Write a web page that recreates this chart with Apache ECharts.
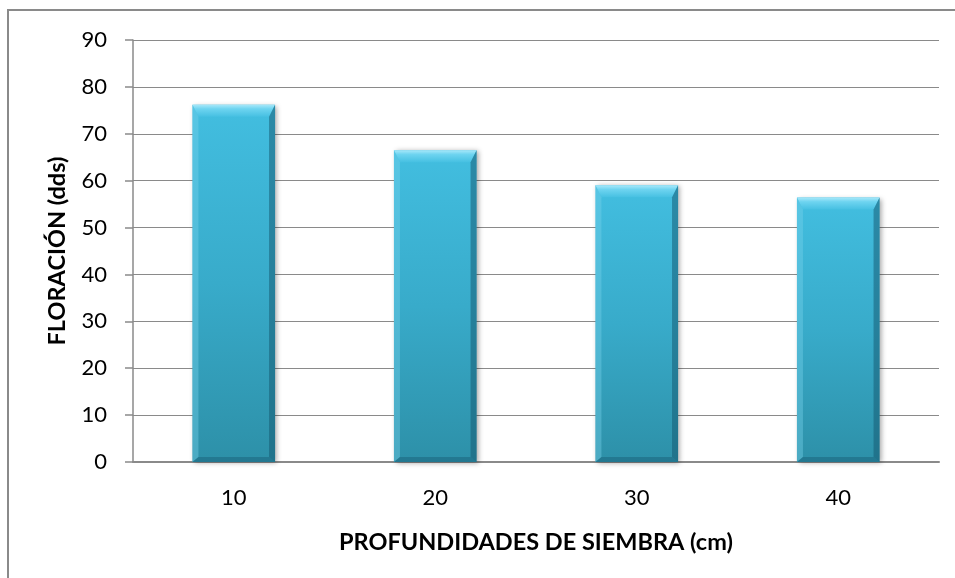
<!DOCTYPE html>
<html>
<head>
<meta charset="utf-8">
<script src="https://cdn.jsdelivr.net/npm/echarts@6/dist/echarts.min.js"></script>
<style>
  html, body { margin: 0; padding: 0; background: #ffffff; }
  #chart { width: 955px; height: 578px; }
</style>
</head>
<body>
<div id="chart"></div>
<script>
// Depths (cm) and days to flowering
const categories = ['10', '20', '30', '40'];
const floracion = [76.2, 66.5, 59.0, 56.4];
const yTicks = { min: 0, max: 90, interval: 10 };
const xTitle = 'PROFUNDIDADES DE SIEMBRA (cm)';
const yTitle = 'FLORACIÓN (dds)';

const FONT = 'Lato';
const BAR_RATIO = 0.41;

const chart = echarts.init(document.getElementById('chart'));

// Bevel highlights drawn over each bar, positioned from the same values
function renderBevel(params, api) {
  const idx = api.value(0);
  const val = api.value(1);
  const top = api.coord([idx, val]);
  const base = api.coord([idx, 0]);
  const w = api.size([1, 0])[0] * BAR_RATIO;
  const x0 = top[0] - w / 2, x1 = top[0] + w / 2;
  const y0 = top[1], y1 = base[1];
  const t = 12, s = 6, b = 5;
  return {
    type: 'group',
    silent: true,
    children: [
      { type: 'polygon', shape: { points: [[x0, y0], [x1, y0], [x1 - s, y0 + t], [x0 + s, y0 + t]] },
        style: { fill: new echarts.graphic.LinearGradient(0, 0, 0, 1, [
          { offset: 0, color: 'rgba(168,232,250,1)' },
          { offset: 0.35, color: 'rgba(110,212,240,1)' },
          { offset: 1, color: 'rgba(70,192,226,1)' }]) } },
      { type: 'polygon', shape: { points: [[x0, y0], [x0 + s, y0 + t], [x0 + s, y1 - b], [x0, y1]] },
        style: { fill: 'rgba(120,210,235,0.4)' } },
      { type: 'polygon', shape: { points: [[x1, y0], [x1, y1], [x1 - s, y1 - b], [x1 - s, y0 + t]] },
        style: { fill: 'rgba(20,85,110,0.5)' } },
      { type: 'polygon', shape: { points: [[x0, y1], [x0 + s, y1 - b], [x1 - s, y1 - b], [x1, y1]] },
        style: { fill: 'rgba(20,85,110,0.4)' } }
    ]
  };
}

chart.setOption({
  backgroundColor: '#ffffff',
  animation: false,
  textStyle: { fontFamily: FONT },
  graphic: [{
    type: 'rect',
    shape: { x: 8, y: 10, width: 1000, height: 700 },
    style: { fill: 'none', stroke: '#8a8a8a', lineWidth: 2 },
    silent: true,
    z: -1
  }],
  grid: { left: 133, right: 16, top: 40, bottom: 116 },
  xAxis: {
    type: 'category',
    data: categories,
    name: xTitle,
    nameLocation: 'middle',
    nameGap: 68,
    nameTextStyle: { fontFamily: FONT, fontSize: 23.5, fontWeight: 'bold', color: '#000' },
    axisLine: { lineStyle: { color: '#8a8a8a', width: 2 } },
    axisTick: { show: false },
    axisLabel: { fontFamily: FONT, fontSize: 22, color: '#000', margin: 25 },
    splitLine: { show: false }
  },
  yAxis: {
    type: 'value',
    min: yTicks.min,
    max: yTicks.max,
    interval: yTicks.interval,
    name: yTitle,
    nameLocation: 'middle',
    nameGap: 64,
    nameRotate: 90,
    nameTextStyle: { fontFamily: FONT, fontSize: 23.5, fontWeight: 'bold', color: '#000' },
    axisLine: { show: true, lineStyle: { color: '#8a8a8a', width: 1.5 } },
    axisTick: { show: true, length: 8, lineStyle: { color: '#8a8a8a', width: 1.5 } },
    axisLabel: { fontFamily: FONT, fontSize: 22, color: '#000', margin: 26 },
    splitLine: { lineStyle: { color: '#8a8a8a', width: 1 } }
  },
  series: [
    {
      type: 'bar',
      data: floracion,
      barWidth: (BAR_RATIO * 100) + '%',
      itemStyle: {
        color: new echarts.graphic.LinearGradient(0, 0, 0, 1, [
          { offset: 0, color: '#42bee0' },
          { offset: 0.5, color: '#38abca' },
          { offset: 1, color: '#2d90a8' }
        ]),
        shadowColor: 'rgba(0,0,0,0.35)',
        shadowBlur: 5,
        shadowOffsetX: 2,
        shadowOffsetY: 1
      }
    },
    {
      type: 'custom',
      data: floracion.map((v, i) => [i, v]),
      renderItem: renderBevel,
      z: 3
    }
  ]
});
</script>
</body>
</html>
